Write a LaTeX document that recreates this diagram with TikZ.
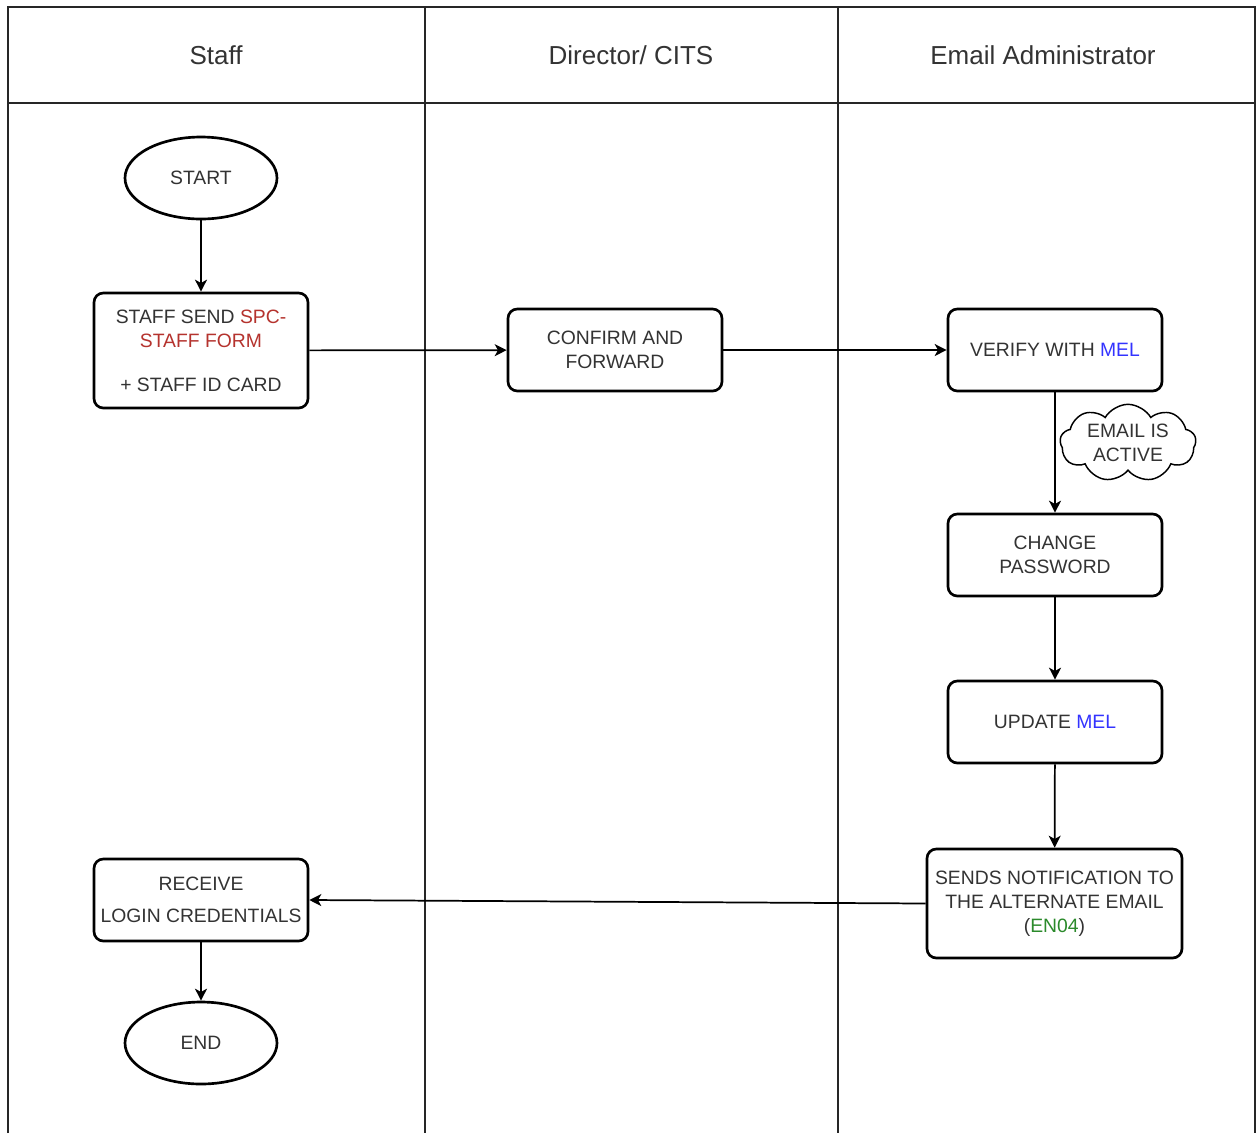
\documentclass[tikz,border=0pt]{standalone}
\usepackage{fontspec}
\setmainfont{Liberation Sans}
\usetikzlibrary{shapes.geometric,shapes.symbols,arrows.meta}
\definecolor{txt}{HTML}{333333}
\definecolor{formred}{HTML}{B5332E}
\definecolor{melblue}{HTML}{3333FF}
\definecolor{codegreen}{HTML}{2B8A2B}

\begin{document}
\begin{tikzpicture}[x=0.75pt,y=-0.75pt,
  lane/.style={line width=1.4pt, draw=black!85},
  head/.style={font=\fontsize{19.5}{24}\selectfont, text=txt},
  nodetext/.style={font=\fontsize{14.5}{18}\selectfont, text=txt, align=center},
  stepbox/.style={nodetext, draw, line width=2pt, rounded corners=7pt, fill=white,
    minimum width=160.5pt, minimum height=61.5pt, inner sep=2pt},
  terminal/.style={nodetext, ellipse, draw, line width=2pt, fill=white,
    minimum width=114pt, minimum height=61.5pt, inner sep=0pt},
  note/.style={nodetext, cloud, cloud puffs=9, cloud puff arc=120, cloud ignores aspect,
    draw, line width=1.1pt, fill=white, minimum width=102pt, minimum height=58pt, inner sep=-4pt},
  flow/.style={line width=1.3pt, -{Stealth[length=9pt,width=9pt,inset=2.5pt]}}]

\useasboundingbox (0,0) rectangle (1257,1133);
\fill[white] (0,0) rectangle (1257,1133);

% swimlane frame
\draw[lane] (8,1133) -- (8,7) -- (1255,7) -- (1255,1133);
\draw[lane] (8,103) -- (1255,103);
\draw[lane] (425,7) -- (425,1133);
\draw[lane] (838,7) -- (838,1133);

% lane headers
\node[head] (hstaff) at (216,55) {Staff};
\node[head] (hdir) at (631,55) {Director/ CITS};
\node[head] (hmail) at (1043,55) {Email Administrator};

% flow steps
\node[terminal] (start) at (201,178) {START};
\node[stepbox, minimum height=86.25pt] (send) at (201,350.5)
  {STAFF SEND \textcolor{formred}{SPC-}\\\textcolor{formred}{STAFF FORM}\\[15pt]+ STAFF ID CARD};
\node[stepbox] (confirm) at (615,350) {CONFIRM AND\\FORWARD};
\node[stepbox] (verify) at (1055,350) {VERIFY WITH \textcolor{melblue}{MEL}};
\node[note] (active) at (1128,443) {EMAIL IS\\ACTIVE};
\node[stepbox] (change) at (1055,555) {CHANGE\\PASSWORD};
\node[stepbox] (update) at (1055,722) {UPDATE \textcolor{melblue}{MEL}};
\node[stepbox, minimum width=191.25pt, minimum height=81.75pt] (notify) at (1054.5,903.5)
  {SENDS NOTIFICATION TO\\THE ALTERNATE EMAIL\\(\textcolor{codegreen}{EN04})};
\node[stepbox] (receive) at (201,900) {RECEIVE\\[6pt]LOGIN CREDENTIALS};
\node[terminal] (end) at (201,1043) {END};

% connectors
\draw[flow] (start) -- (send);
\draw[flow] (send) -- (confirm);
\draw[flow] (confirm) -- (verify);
\draw[flow] (verify) -- (change);
\draw[flow] (change) -- (update);
\draw[flow] (update) -- (notify);
\draw[flow] (notify.west) -- (receive.east);
\draw[flow] (receive) -- (end);
\end{tikzpicture}
\end{document}
